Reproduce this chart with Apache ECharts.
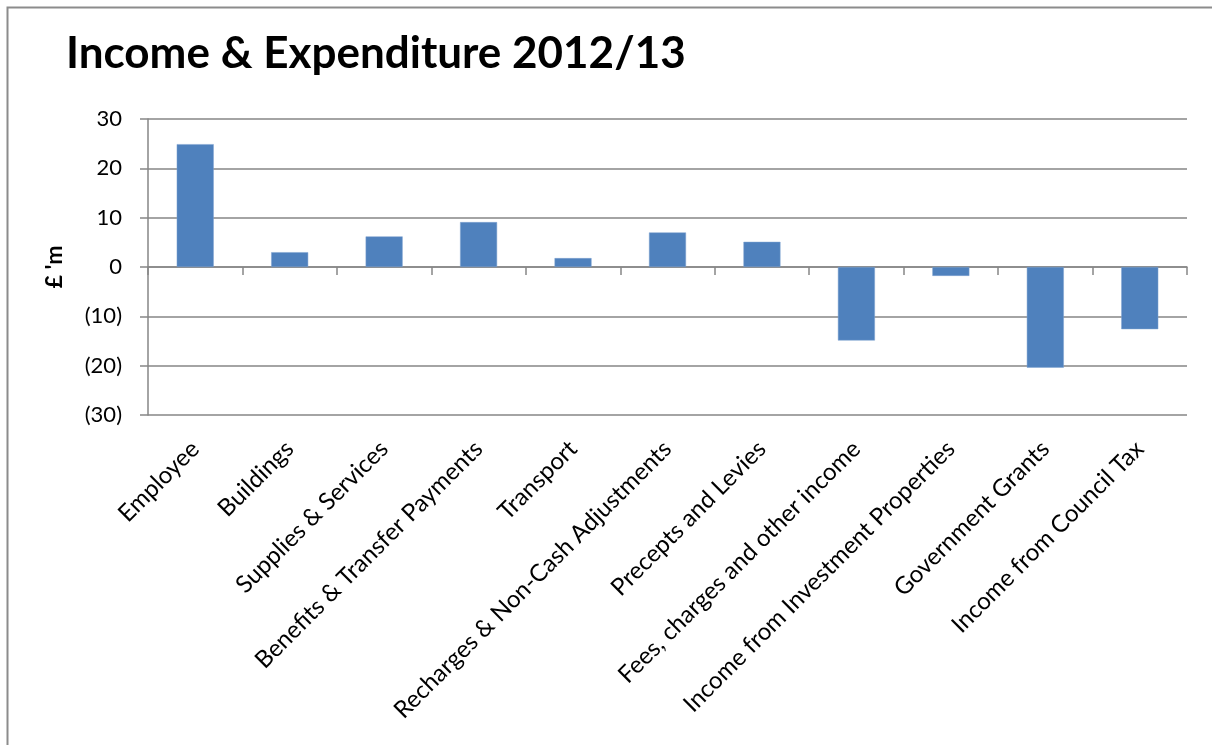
<!DOCTYPE html>
<html>
<head>
<meta charset="utf-8">
<script src="https://cdn.jsdelivr.net/npm/echarts@6/dist/echarts.min.js"></script>
<style>
html,body{margin:0;padding:0;background:#fff;}
#chart{width:1212px;height:745px;}
</style>
</head>
<body>
<div id="chart"></div>
<script>
const categories = ["Employee","Buildings","Supplies & Services","Benefits & Transfer Payments","Transport","Recharges & Non-Cash Adjustments","Precepts and Levies","Fees, charges and other income","Income from Investment Properties","Government Grants","Income from Council Tax"];
const values = [24.9, 3.0, 6.2, 9.1, 1.8, 7.0, 5.1, -14.9, -1.8, -20.4, -12.6];
const titleText = "Income & Expenditure 2012/13";
const yAxisName = "£ 'm";
const yMin = -30, yMax = 30, yStep = 10;

const chart = echarts.init(document.getElementById('chart'));
const FONT = 'Lato, "Open Sans", sans-serif';
chart.setOption({
  animation: false,
  backgroundColor: '#ffffff',
  graphic: [{
    type: 'rect', left: 5, top: 5, silent: true,
    shape: {width: 1240, height: 780},
    style: {fill: 'none', stroke: '#8c8c8c', lineWidth: 2}
  }],
  title: {
    text: titleText, left: 61, top: 27,
    textStyle: {fontFamily: FONT, fontWeight: 'bold', fontSize: 44, color: '#000'}
  },
  grid: {left: 148, right: 25, top: 119, bottom: 330, containLabel: false},
  xAxis: [{
    type: 'category', data: categories, position: 'bottom',
    axisLine: {show: false, onZero: false},
    axisTick: {show: false},
    axisLabel: {rotate: 45, interval: 0, margin: 30, fontFamily: FONT, fontSize: 24, color: '#000'}
  }, {
    type: 'category', data: categories, position: 'bottom',
    axisLine: {show: true, onZero: true, lineStyle: {color: '#868686', width: 1.5}},
    axisTick: {show: true, interval: 0, length: 8, lineStyle: {color: '#868686', width: 1.5}},
    axisLabel: {show: false}
  }],
  yAxis: {
    type: 'value', min: yMin, max: yMax, interval: yStep,
    name: yAxisName, nameLocation: 'middle', nameGap: 82, nameRotate: 90,
    nameTextStyle: {fontFamily: FONT, fontWeight: 'bold', fontSize: 23, color: '#000'},
    axisLine: {show: true, lineStyle: {color: '#868686', width: 1.5}},
    axisTick: {show: true, length: 8, lineStyle: {color: '#868686', width: 1.5}},
    axisLabel: {
      margin: 26, fontFamily: FONT, fontSize: 22, color: '#000',
      formatter: v => v < 0 ? '(' + Math.abs(v) + ')' : String(v)
    },
    splitLine: {show: true, lineStyle: {color: '#868686', width: 1.5}}
  },
  series: [{
    type: 'bar', xAxisIndex: 0, data: values,
    barWidth: 37,
    itemStyle: {color: '#4F81BD', borderColor: '#7FA3D0', borderWidth: 0.5}
  }]
});
</script>
</body>
</html>
